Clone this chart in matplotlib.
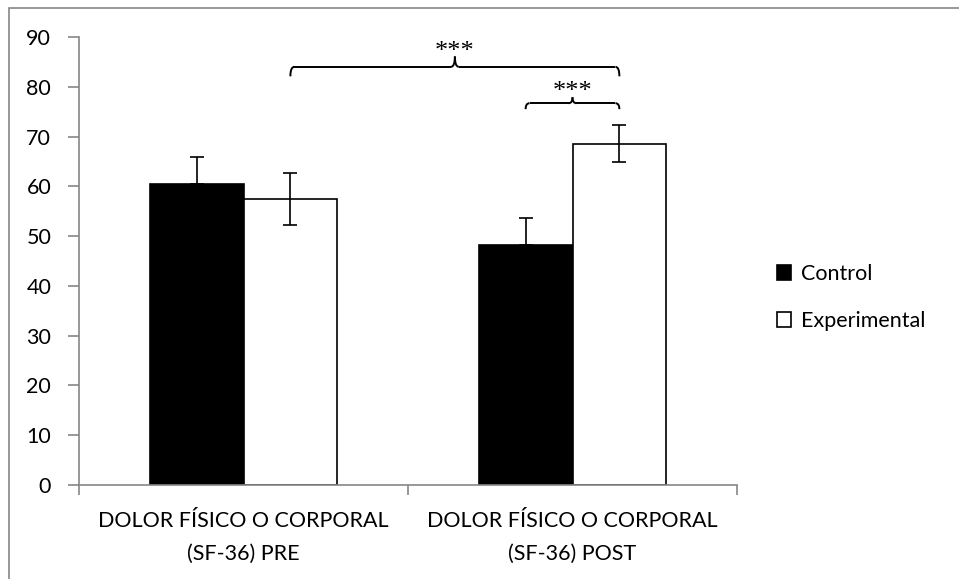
import matplotlib
matplotlib.use("Agg")
import matplotlib.pyplot as plt
from matplotlib.patches import Rectangle
from matplotlib.path import Path
from matplotlib.patches import PathPatch
import numpy as np

categories = ["DOLOR FÍSICO O CORPORAL\n(SF-36) PRE", "DOLOR FÍSICO O CORPORAL\n(SF-36) POST"]
series_names = ["Control", "Experimental"]
control_vals = [60.4, 48.2]
control_err = [5.4, 5.4]
exp_vals = [57.5, 68.6]
exp_err = [5.2, 3.65]
yticks = [0, 10, 20, 30, 40, 50, 60, 70, 80, 90]

plt.rcParams['font.family'] = ['Lato', 'DejaVu Sans']

W, H = 959, 579
fig = plt.figure(figsize=(W / 100, H / 100), dpi=100)
ax = fig.add_axes([79 / W, 1 - 485 / H, (737 - 79) / W, (485 - 37) / H])

x = np.arange(len(categories))
bw = 0.285
gray = "#868686"
ax.bar(x - bw / 2, control_vals, bw, color="black", edgecolor="black", linewidth=1.2,
       label=series_names[0], zorder=2)
ax.bar(x + bw / 2, exp_vals, bw, color="white", edgecolor="black", linewidth=1.2,
       label=series_names[1], zorder=2)
ax.errorbar(x - bw / 2, control_vals, yerr=[[0, 0], control_err], fmt="none", ecolor="black",
            elinewidth=1.2, capsize=5, capthick=1.2, zorder=3)
ax.errorbar(x + bw / 2, exp_vals, yerr=exp_err, fmt="none", ecolor="black",
            elinewidth=1.2, capsize=5, capthick=1.2, zorder=3)

ax.set_xlim(-0.5, 1.5)
ax.set_ylim(0, 90)
ax.set_yticks(yticks)
ax.set_yticklabels([str(v) for v in yticks], fontsize=15.5)
ax.set_xticks([-0.5, 0.5, 1.5], minor=False)
ax.set_xticklabels([])
ax.set_xticks(x, minor=True)
ax.set_xticklabels(categories, minor=True, fontsize=15.5, linespacing=1.75)
ax.tick_params(axis="x", which="minor", length=0, pad=19)
ax.tick_params(axis="x", which="major", length=7, color=gray, width=1.2)
ax.tick_params(axis="y", length=8, color=gray, width=1.2, pad=12)
for s in ["top", "right"]:
    ax.spines[s].set_visible(False)
for s in ["left", "bottom"]:
    ax.spines[s].set_color(gray)
    ax.spines[s].set_linewidth(1.2)


def bracket(x1, x2, y, drop, rise, text, ty):
    xm = (x1 + x2) / 2
    r = 0.012
    pieces = [
        ([(x1, y - drop), (x1, y), (x1 + r, y)], [Path.MOVETO, Path.CURVE3, Path.CURVE3]),
        ([(x1 + r, y), (xm - r, y)], [Path.MOVETO, Path.LINETO]),
        ([(xm - r, y), (xm, y), (xm, y + rise)], [Path.MOVETO, Path.CURVE3, Path.CURVE3]),
        ([(xm + r, y), (xm, y), (xm, y + rise)], [Path.MOVETO, Path.CURVE3, Path.CURVE3]),
        ([(xm + r, y), (x2 - r, y)], [Path.MOVETO, Path.LINETO]),
        ([(x2 - r, y), (x2, y), (x2, y - drop)], [Path.MOVETO, Path.CURVE3, Path.CURVE3]),
    ]
    for v, c in pieces:
        p = PathPatch(Path(v, c), fill=False, edgecolor="black", lw=1.4, clip_on=False, zorder=4)
        ax.add_patch(p)
    ax.text(xm, ty, text, ha="center", va="center", fontsize=19, clip_on=False,
            family="Liberation Serif")


bracket(x[0] + bw / 2, x[1] + bw / 2, 84.0, 1.9, 2.1, "***", 86.9)
bracket(x[1] - bw / 2, x[1] + bw / 2, 76.7, 1.2, 1.2, "***", 78.9)

leg = fig.legend(loc="upper left", bbox_to_anchor=(777 / W, 1 - 264 / H), frameon=False,
                 fontsize=15.5, handlelength=0.65, handleheight=0.65, handletextpad=0.45,
                 labelspacing=1.25, borderpad=0, borderaxespad=0)

fig.patches.append(Rectangle((9 / W, -0.1), 1.2, (1 - 8 / H) + 0.1, transform=fig.transFigure,
                             fill=False, edgecolor=gray, linewidth=1.2))

fig.savefig("out.png", dpi=100)
